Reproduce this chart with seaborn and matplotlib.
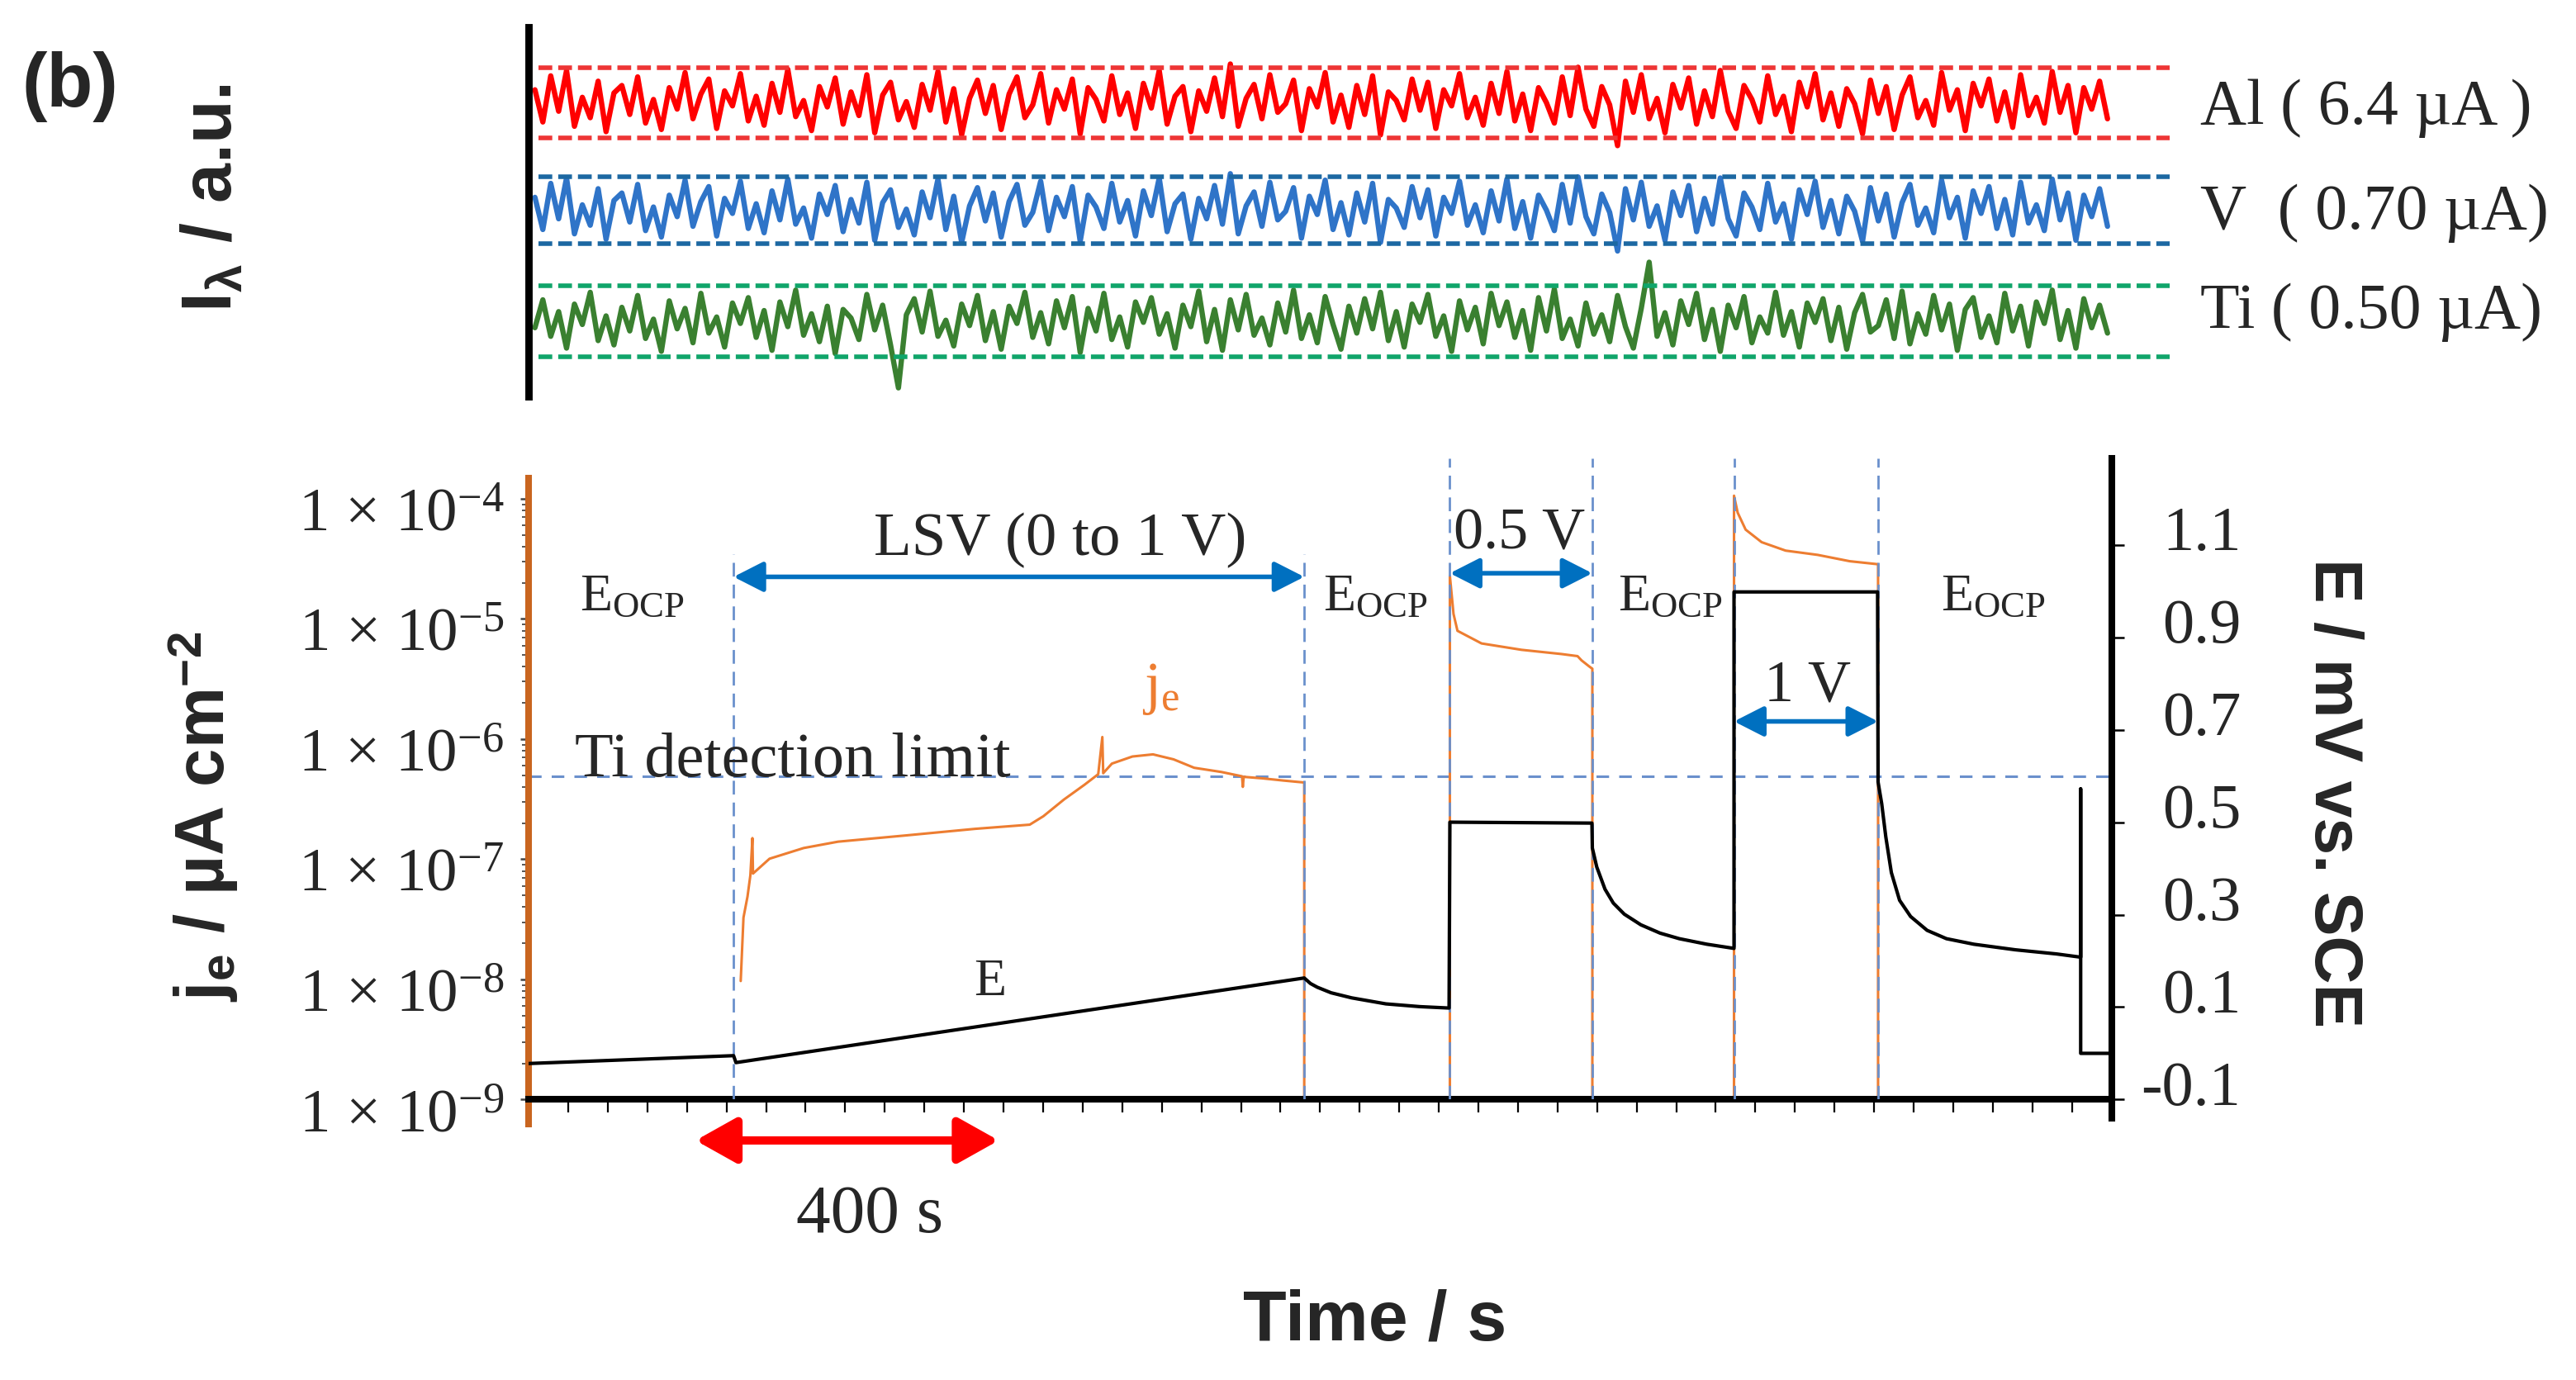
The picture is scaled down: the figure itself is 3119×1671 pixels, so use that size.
import numpy as np
import matplotlib
matplotlib.use("Agg")
import matplotlib.pyplot as plt
import matplotlib.transforms as mtransforms
from matplotlib.ticker import FixedLocator, FuncFormatter, NullFormatter, FixedFormatter
import seaborn as sns

# ------------------------------------------------------------------ data
# top panel: emission intensity noise (hundredths of a band unit)
al_noise = [12, -18, 25, -8, 30, -22, 5, -14, 20, -27, 9, 16, -11, 24, -19, 3, -25, 14, -6, 28,
            -15, 8, 22, -24, 11, -3, 27, -17, 6, -21, 18, -9, 31, -13, 2, -26, 15, -4, 23, -20,
            10, -12, 26, -28, 7, 19, -16, 1, -23, 17, -7, 29, -18, 13, -30, 4, 21, -10, 16, -25,
            8, 24, -14, -2, 27, -19, 12, -6, 22, -29, 14, 3, -17, 25, -11, 9, -24, 18, -5, 30,
            -20, 6, 15, -27, 11, -8, 23, -13, 36, -22, 4, 17, -15, 26, -9, -1, 21, -26, 13, -4,
            28, -18, 7, -23, 16, -11, 25, -30, 10, 2, -16, 22, -7, 19, -24, 12, -3, 27, -14, 5,
            -21, 18, -10, 29, -17, 8, -26, 14, 0, -19, 24, -12, 33, -6, -22, 15, -2, -40, 20, -9,
            26, -15, 4, -28, 17, -5, 23, -20, 11, -13, 30, -8, -24, 16, 3, -18, 25, -11, 6, -27,
            19, -4, 27, -16, 9, -22, 13, -1, -29, 21, -10, 15, -25, 7, 24, -14, 2, -21, 28, -7,
            12, -26, 18, -3, 22, -17, 10, -23, 26, -12, 5, -19, 29, -9, 16, -28, 14, -6, 20, -15]
v_noise = [12, -18, 25, -8, 30, -22, 5, -14, 20, -27, 9, 16, -11, 24, -19, 3, -25, 14, -6, 28,
           -15, 8, 22, -24, 11, -3, 27, -17, 6, -21, 18, -9, 29, -13, 2, -26, 15, -4, 23, -20,
           10, -12, 26, -28, 7, 19, -16, 1, -23, 17, -7, 29, -18, 13, -30, 4, 21, -10, 16, -25,
           8, 24, -14, -2, 27, -19, 12, -6, 22, -29, 14, 3, -17, 25, -11, 9, -24, 18, -5, 30,
           -20, 6, 15, -27, 11, -8, 23, -13, 34, -22, 4, 17, -15, 26, -9, -1, 21, -26, 13, -4,
           28, -18, 7, -23, 16, -11, 25, -30, 10, 2, -16, 22, -7, 19, -24, 12, -3, 27, -14, 5,
           -21, 18, -10, 29, -17, 8, -26, 14, 0, -19, 24, -12, 31, -6, -22, 15, -2, -38, 20, -9,
           26, -15, 4, -28, 17, -5, 23, -20, 11, -13, 30, -8, -24, 16, 3, -18, 25, -11, 6, -27,
           19, -4, 27, -16, 9, -22, 13, -1, -29, 21, -10, 15, -25, 7, 24, -14, 2, -21, 28, -7,
           12, -26, 18, -3, 22, -17, 10, -23, 26, -12, 5, -19, 29, -9, 16, -28, 14, -6, 20, -15]
ti_noise = [-6, 20, -14, 9, -25, 16, -3, 27, -18, 5, -22, 13, -9, 24, -16, 2, -28, 19, -7, 12,
            -20, 26, -11, 4, -24, 17, -2, 22, -15, 10, -27, 18, -5, 29, -13, 7, -19, 14, -30, 11,
            3, -17, 25, -8, 15, -22, -62, 6, 21, -10, 28, -14, 1, -23, 16, -4, 24, -18, 9, -26,
            14, -2, 27, -15, 8, -21, 19, -6, 23, -29, 12, -9, 26, -17, 4, -24, 18, -1, 22, -12,
            7, -25, 15, -5, 28, -19, 11, -27, 20, -8, 25, -13, 3, -22, 17, -10, 29, -16, 6, -20,
            23, -3, -26, 14, -11, 21, -7, 27, -18, 9, -24, 16, -1, 25, -14, 5, -28, 19, -8, 13,
            -21, 26, -4, 18, -15, 10, -27, 22, -9, 30, -16, 2, -23, 17, -12, 6, -19, 24, -5, -25,
            12, 55, -14, 8, -22, 19, -3, 26, -17, 11, -28, 15, -6, 23, -20, 4, -11, 27, -13, 9,
            -24, 17, -1, 21, -18, 13, -26, 8, 25, -10, -4, 20, -16, 28, -21, 7, -12, 24, -8, 16,
            -27, 11, 22, -15, 5, -20, 26, -9, 14, -23, 18, -2, 29, -17, 10, -25, 21, -6, 15, -11]
trace_levels = [2.035, 1.034, 0.0]
band_half = [0.325, 0.314, 0.332]
trace_names = ["Al ( 6.4 µA )", "V  ( 0.70 µA)", "Ti ( 0.50 µA)"]

# bottom panel
segment_bounds = [259, 980, 1164, 1344, 1523, 1705]   # s
detection_limit = 4.9e-7                               # µA cm-2

je_time = [268, 271.5, 276.6, 280.2, 282.8, 283.5, 304.4, 347.6, 390.9, 477.4,
           563.9, 633.2, 650.4, 676.4, 702.4, 719.7, 724.9, 726, 737.0, 762.9,
           788.9, 814.9, 840.9, 875.5, 901.4, 902.4, 903.5, 927.4, 953.3, 980, 980,
           1164, 1164, 1168.6, 1173.6, 1204, 1254.5, 1305.1, 1325.3, 1330.3, 1340.5, 1344, 1344,
           1523, 1523, 1527.6, 1537.7, 1557.9, 1588.2, 1628.7, 1669.2, 1705, 1705]
je_value = [9.7e-9, 3.27e-8, 4.9e-8, 7.35e-8, 1.5e-7, 7.6e-8, 1.01e-7, 1.24e-7, 1.4e-7, 1.58e-7,
            1.79e-7, 1.94e-7, 2.28e-7, 3.14e-7, 4.17e-7, 5.1e-7, 1.04e-6, 5.2e-7, 6.25e-7, 7.16e-7,
            7.46e-7, 6.78e-7, 5.77e-7, 5.32e-7, 4.9e-7, 4.0e-7, 4.85e-7, 4.71e-7, 4.52e-7, 4.35e-7, 1e-9,
            1e-9, 2.28e-5, 1.1e-5, 7.96e-6, 6.25e-6, 5.53e-6, 5.1e-6, 4.9e-6, 4.52e-6, 4.0e-6, 3.85e-6, 1e-9,
            1e-9, 1.06e-4, 7.66e-5, 5.53e-5, 4.35e-5, 3.7e-5, 3.41e-5, 3.02e-5, 2.85e-5, 1e-9]

E_time = [0, 259, 262, 980, 987.9, 996.5, 1013.9, 1039.9, 1083.2, 1126.4, 1163, 1164,
          1343.5, 1344, 1349.6, 1360, 1370.5, 1384.4, 1405.3, 1429.6, 1453.9, 1488.8, 1523,
          1523, 1704.4, 1705, 1709.6, 1714.8, 1721.8, 1732.2, 1746.1, 1767, 1791.4, 1826.1,
          1878.3, 1930.5, 1961, 1961, 1961, 2000]
E_value = [-0.022, -0.005, -0.02, 0.163, 0.151, 0.143, 0.131, 0.120, 0.107, 0.101, 0.098, 0.50,
           0.498, 0.444, 0.403, 0.355, 0.325, 0.301, 0.278, 0.260, 0.248, 0.236, 0.227,
           0.998, 0.998, 0.587, 0.540, 0.468, 0.391, 0.331, 0.296, 0.266, 0.248, 0.236,
           0.224, 0.215, 0.208, 0.572, 0.0, 0.0]

left_ticks = [1e-9, 1e-8, 1e-7, 1e-6, 1e-5, 1e-4]
left_minor = [m * 10.0 ** e for e in range(-9, -4) for m in range(2, 10)]
right_ticks = [-0.1, 0.1, 0.3, 0.5, 0.7, 0.9, 1.1]
right_labels = ["-0.1", "0.1", "0.3", "0.5", "0.7", "0.9", "1.1"]
time_ticks = list(range(0, 2001, 50))

# ------------------------------------------------------------------ style
sns.set_theme(style="white")
plt.rcParams["font.family"] = ["Liberation Serif", "DejaVu Serif"]
plt.rcParams["mathtext.fontset"] = "custom"
plt.rcParams["mathtext.rm"] = "Liberation Serif"
plt.rcParams["mathtext.it"] = "Liberation Serif:italic"
plt.rcParams["mathtext.bf"] = "Liberation Sans:bold"
plt.rcParams["mathtext.sf"] = "Liberation Sans"

SANS = ["Liberation Sans", "DejaVu Sans"]
ORANGE = "#ED7D31"
SPINE_ORANGE = "#C9651F"
DASH_BLUE = "#6A90CC"
ARROW_BLUE = "#0070C0"

fig = plt.figure(figsize=(15.595, 8.355), dpi=200)
ax_top = fig.add_axes([0.2052, 0.7127, 0.8464 - 0.2052, 0.9804 - 0.7127])
ax = fig.add_axes([0.2052, 0.2032, 0.8197 - 0.2052, 0.6679 - 0.2032])
ax2 = ax.twinx()

# ------------------------------------------------------------------ top panel
trace_colors = ["#FF0000", "#2F74C8", "#3A8030"]
dash_colors = ["#EE3535", "#1C68A2", "#10A56A"]
for noise, level, half, c, dc in zip([al_noise, v_noise, ti_noise], trace_levels, band_half,
                                     trace_colors, dash_colors):
    t = np.linspace(8, 1995, len(noise))
    sns.lineplot(x=t, y=level + np.asarray(noise) / 100.0, ax=ax_top, color=c, lw=2.3,
                 estimator=None, sort=False, legend=False)
    ax_top.hlines([level + half, level - half], 12, 2073, colors=dc, lw=2.0,
                  linestyles=(0, (3.0, 1.3)), zorder=3)
ax_top.set_xlim(0, 2087)
ax_top.set_ylim(-0.70, 2.739)
ax_top.set_xticks([])
ax_top.set_yticks([])
ax_top.set_xlabel("")
ax_top.set_ylabel("")
for s in ["top", "right", "bottom"]:
    ax_top.spines[s].set_visible(False)
ax_top.spines["left"].set_color("black")
ax_top.spines["left"].set_linewidth(3.2)

for name, yb in zip(trace_names, [150, 277, 397]):
    fig.text(2664 / 3119, 1 - yb / 1671, name, fontsize=28, ha="left", va="baseline")

# ------------------------------------------------------------------ bottom panel
ax.set_yscale("log")
sns.lineplot(x=je_time, y=je_value, ax=ax, color=ORANGE, lw=1.1,
             estimator=None, sort=False, legend=False)
sns.lineplot(x=E_time, y=E_value, ax=ax2, color="black", lw=1.5,
             estimator=None, sort=False, legend=False)

ax.set_xlim(0, 2000)
ax.set_ylim(1e-9, 2.17e-4)
ax2.set_ylim(-0.1, 1.287)

ax.vlines(segment_bounds[:2], 1e-9, 3.45e-5, colors=DASH_BLUE, lw=1.0,
          linestyles=(0, (6, 3.5)), zorder=3)
ax.vlines(segment_bounds[2:], 1e-9, 2.17e-4, colors=DASH_BLUE, lw=1.0,
          linestyles=(0, (6, 3.5)), zorder=3)
ax.axhline(detection_limit, color=DASH_BLUE, lw=1.1, ls=(0, (5, 4)), zorder=1)

# spines
ax.spines["top"].set_visible(False)
ax.spines["right"].set_visible(False)
ax.spines["left"].set_color(SPINE_ORANGE)
ax.spines["left"].set_linewidth(2.9)
ax.spines["left"].set_bounds(6.3e-10, 1.48e-4)
ax.spines["bottom"].set_color("black")
ax.spines["bottom"].set_linewidth(2.9)
for s in ["left", "top", "bottom"]:
    ax2.spines[s].set_visible(False)
ax2.spines["right"].set_color("black")
ax2.spines["right"].set_linewidth(2.9)
ax2.spines["right"].set_bounds(-0.1397, 1.287)

# ticks
ax.xaxis.set_major_locator(FixedLocator(time_ticks))
ax.tick_params(axis="x", which="major", direction="out", length=5.8, width=0.8,
               color="black", labelbottom=False, bottom=True)
ax.yaxis.set_major_locator(FixedLocator(left_ticks))
ax.yaxis.set_minor_locator(FixedLocator(left_minor))
ax.yaxis.set_minor_formatter(NullFormatter())
ax.yaxis.set_major_formatter(FuncFormatter(
    lambda v, p: "1 × 10$^{%d}$" % int(round(np.log10(v)))))
ax.tick_params(axis="y", which="major", direction="out", length=3.6, width=0.9,
               color="#444444", pad=7, labelsize=27, left=True)
ax.tick_params(axis="y", which="minor", direction="out", length=3.0, width=0.7,
               color="#555555", left=True)

ax2.yaxis.set_major_locator(FixedLocator(right_ticks))
ax2.yaxis.set_major_formatter(FixedFormatter(right_labels))
ax2.tick_params(axis="y", direction="out", length=5.4, width=0.9, color="black",
                pad=51, labelsize=27.5, right=True)
ax.set_xlabel("")
ax.set_ylabel("")
ax2.set_xlabel("")
ax2.set_ylabel("")

down = mtransforms.ScaledTranslation(0, -13 / 200, fig.dpi_scale_trans)
for lab in ax.get_yticklabels():
    lab.set_transform(lab.get_transform() + down)
up = mtransforms.ScaledTranslation(0, 20 / 200, fig.dpi_scale_trans)
for lab in ax2.get_yticklabels():
    lab.set_transform(lab.get_transform() + up)
    lab.set_horizontalalignment("right")

# annotations
for tx in [131, 1070, 1442, 1851]:
    ax.text(tx, 10 ** -4.93, r"$\mathrm{E_{OCP}}$", fontsize=23, ha="center", va="baseline")
ax.text(672, 10 ** -4.467, "LSV (0 to 1 V)", fontsize=27, ha="center", va="baseline")
ax.text(1252, 10 ** -4.415, "0.5 V", fontsize=26, ha="center", va="baseline")
ax.text(1616, 10 ** -5.678, "1 V", fontsize=26, ha="center", va="baseline")
ax.text(799, 10 ** -5.70, r"$\mathrm{j_e}$", fontsize=26, ha="center", va="baseline", color=ORANGE)
ax.text(583, 10 ** -8.134, "E", fontsize=23, ha="center", va="baseline")
ax.text(58, detection_limit, "Ti detection limit", fontsize=27.5, ha="left", va="baseline")

blue_arrow = dict(arrowstyle="<|-|>,head_length=0.55,head_width=0.28", color=ARROW_BLUE,
                  lw=2.0, shrinkA=0, shrinkB=0, mutation_scale=20)
for (a, b, lv) in [(259, 980, -4.65), (1164, 1344, -4.62), (1523, 1705, -5.853)]:
    ax.annotate("", xy=(b, 10 ** lv), xytext=(a, 10 ** lv), arrowprops=blue_arrow,
                annotation_clip=False)
ax.annotate("", xy=(594, 10 ** -9.34), xytext=(211, 10 ** -9.34),
            arrowprops=dict(arrowstyle="<|-|>,head_length=0.75,head_width=0.42", color="#FF0000",
                            lw=3.6, shrinkA=0, shrinkB=0, mutation_scale=20),
            annotation_clip=False)
ax.text(431, 10 ** -10.10, "400 s", fontsize=30, ha="center", va="baseline", clip_on=False)

# axis titles
fig.text(1665 / 3119, 1 - 1600 / 1671, "Time / s", fontsize=31, fontweight="bold",
         family=SANS, ha="center", va="center")
fig.text(247 / 3119, 1 - 989 / 1671, r"$\mathbf{j_e}$ / µA cm$^{\mathbf{-2}}$", fontsize=30,
         fontweight="bold", family=SANS, rotation=90, ha="center", va="center")
fig.text(2824 / 3119, 1 - 960 / 1671, "E / mV vs. SCE", fontsize=29, fontweight="bold",
         family=SANS, rotation=-90, ha="center", va="center")
fig.text(259 / 3119, 1 - 240 / 1671, r"$\mathbf{I_{λ}}$ / a.u.", fontsize=31,
         fontweight="bold", family=SANS, rotation=90, ha="center", va="center")
fig.text(85 / 3119, 1 - 105 / 1671, "(b)", fontsize=33, fontweight="bold",
         family=SANS, ha="center", va="center")

fig.savefig("out.png", dpi=200)
